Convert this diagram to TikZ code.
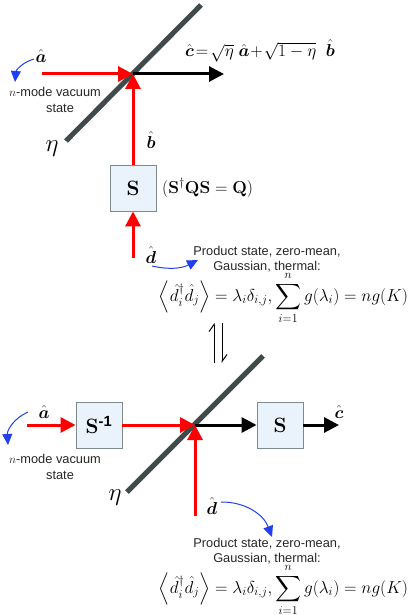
\documentclass[tikz,border=0pt]{standalone}
\usepackage{amsmath}
\usepackage{amssymb}
\usepackage[no-math]{fontspec}
\setmainfont{Liberation Sans}
\usetikzlibrary{arrows.meta}
\usetikzlibrary{positioning}
\definecolor{mirrorgray}{HTML}{404A4A}
\definecolor{boxfill}{HTML}{EAF2FB}
\definecolor{boxline}{HTML}{7F8A8C}
\definecolor{pointerblue}{HTML}{2040F0}

\begin{document}
\begin{tikzpicture}[
        x=1pt, y=-1pt,
        >={Triangle[length=15pt,width=15pt]},
        plainlabel/.style={inner sep=0pt, align=center, font=\fontsize{12.8}{15.6}\selectfont, text=black!85},
        mathlabel/.style={inner sep=0pt, font=\fontsize{17.2}{20}\selectfont},
        eqlabel/.style={inner sep=0pt, font=\fontsize{18}{20}\selectfont},
        hatlabel/.style={inner sep=0pt, font=\fontsize{18}{20}\selectfont},
        etalabel/.style={inner sep=0pt, font=\fontsize{33}{35}\selectfont},
        squarenode/.style={draw=boxline, line width=0.9pt, fill=boxfill, minimum size=46pt, inner sep=0pt, font=\fontsize{21}{23}\selectfont},
        redarrow/.style={->, red, line width=3pt},
        blackarrow/.style={->, black, line width=3pt},
        bluearrow/.style={-{Triangle[length=11pt,width=10pt]}, pointerblue, line width=1pt},
        harpoon/.style={black, line width=1pt, -{Straight Barb[left,length=7pt,width=10pt]}},
        mirror/.style={draw=mirrorgray, line width=5pt}
    ]
        \useasboundingbox (0,0) rectangle (416,615);

        % Upper circuit
        \coordinate (SplitA1) at (66,141);
        \coordinate (SplitA2) at (201,5);
        \coordinate (JoinA) at (133,74);
        \coordinate (InA) at (42,74);
        \coordinate (OutA) at (224,74);
        \coordinate (InD) at (133,258);
        \node [squarenode] (BoxA) at (133,188) {$\mathbf{S}$};

        \draw [mirror] (SplitA1) -- (SplitA2);
        \draw [redarrow] (InA) -- (JoinA);
        \draw [blackarrow] (JoinA) -- (OutA);
        \draw [redarrow] (BoxA.north) -- (JoinA);
        \draw [redarrow] (InD) -- (BoxA.south);

        \node [hatlabel] (LabelA) at (41,56) {$\hat{\boldsymbol{a}}$};
        \node [hatlabel] (LabelB) at (151,140) {$\hat{\boldsymbol{b}}$};
        \node [hatlabel] (LabelD) at (151,255) {$\hat{\boldsymbol{d}}$};
        \node [etalabel] (EtaA) at (52,149) {$\eta$};
        \node [plainlabel] (VacA) at (55,100) {$n$-mode vacuum\\\hspace*{10pt}state};
        \node [mathlabel, anchor=west] (EqC) at (185,51) {$\hat{\boldsymbol{c}}\!=\!\sqrt{\eta}\;\hat{\boldsymbol{a}}\!+\!\sqrt{1-\eta}\;\;\hat{\boldsymbol{b}}$};
        \node [mathlabel, anchor=west] (EqS) at (162,188) {$(\mathbf{S}^{\dagger}\mathbf{Q}\mathbf{S}=\mathbf{Q})$};
        \node [plainlabel] (ProdA) at (267,259) {Product state, zero-mean,\\Gaussian, thermal:};
        \node [eqlabel] (EqA) at (283.5,298) {$\displaystyle\left\langle \hat{d}_i^{\dagger}\hat{d}_j \right\rangle=\lambda_i\delta_{i,j},\sum_{i=1}^{n} g(\lambda_i)=ng(K)$};

        % Blue pointers
        \draw [bluearrow] (34,59) to [bend right=35] (15,82);
        \draw [bluearrow] (152,266) to [bend right=20] (198,260);

        % Harpoons between the two circuits
        \coordinate (HarpA1) at (214,363);
        \coordinate (HarpA2) at (214,323);
        \coordinate (HarpB1) at (222,323);
        \coordinate (HarpB2) at (222,363);
        \draw [harpoon] (HarpA1) -- (HarpA2);
        \draw [harpoon] (HarpB1) -- (HarpB2);

        % Lower circuit
        \coordinate (SplitB1) at (127,492);
        \coordinate (SplitB2) at (263,356);
        \coordinate (JoinB) at (195,425);
        \coordinate (InB) at (27,425);
        \coordinate (OutB) at (339,425);
        \coordinate (InE) at (195,516);
        \node [squarenode] (BoxB) at (99,425) {$\mathbf{S}^{\text{\textbf{-1}}}$};
        \node [squarenode] (BoxC) at (280,425) {$\mathbf{S}$};

        \draw [mirror] (SplitB1) -- (SplitB2);
        \draw [redarrow] (InB) -- (BoxB.west);
        \draw [redarrow] (BoxB.east) -- (JoinB);
        \draw [blackarrow] (JoinB) -- (BoxC.west);
        \draw [blackarrow] (BoxC.east) -- (OutB);
        \draw [redarrow] (InE) -- (JoinB);

        \node [hatlabel] (LabelE) at (44,412) {$\hat{\boldsymbol{a}}$};
        \node [hatlabel] (LabelC) at (339,412) {$\hat{\boldsymbol{c}}$};
        \node [hatlabel] (LabelF) at (212,506) {$\hat{\boldsymbol{d}}$};
        \node [etalabel] (EtaB) at (115,498) {$\eta$};
        \node [plainlabel] (VacB) at (55,467) {$n$-mode vacuum\\\hspace*{10pt}state};
        \node [plainlabel] (ProdB) at (267,551) {Product state, zero-mean,\\Gaussian, thermal:};
        \node [eqlabel] (EqB) at (283.5,590) {$\displaystyle\left\langle \hat{d}_i^{\dagger}\hat{d}_j \right\rangle=\lambda_i\delta_{i,j},\sum_{i=1}^{n} g(\lambda_i)=ng(K)$};

        % Blue pointers
        \draw [bluearrow] (28,412) to [bend right=35] (8,445);
        \draw [bluearrow] (221,502) to [bend left=35] (272,537);

    \end{tikzpicture}
\end{document}
